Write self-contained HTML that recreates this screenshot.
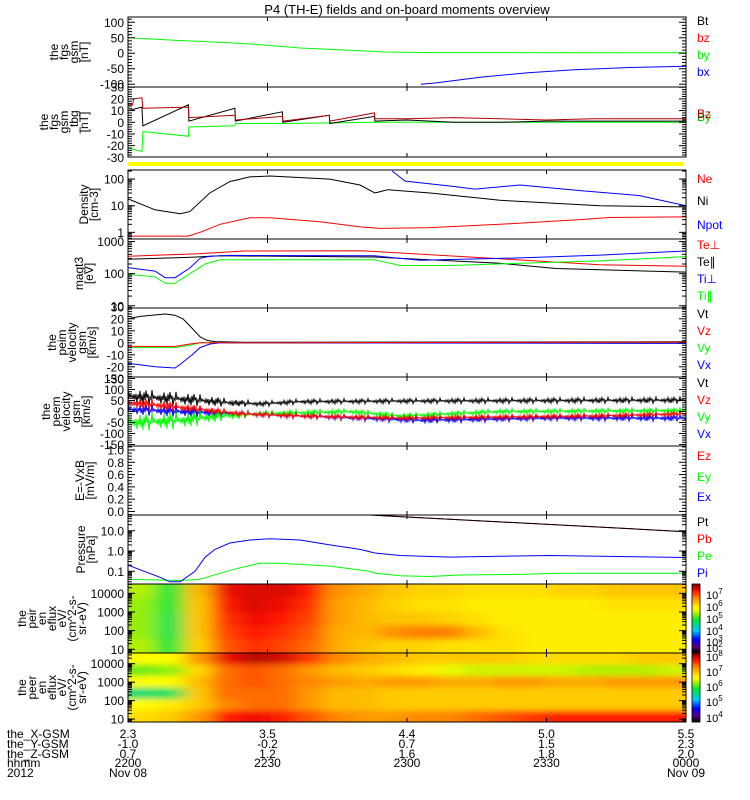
<!DOCTYPE html>
<html><head><meta charset="utf-8"><style>
html,body{margin:0;padding:0;background:#fff}
svg{display:block;font-family:"Liberation Sans",sans-serif}
</style></head><body>
<svg id="chart" width="750" height="800" viewBox="0 0 750 800" xmlns="http://www.w3.org/2000/svg">
<rect x="0" y="0" width="750" height="800" fill="#fff"/>
<text x="407" y="14" font-size="13" text-anchor="middle" fill="#000">P4 (TH-E) fields and on-board moments overview</text>
<defs>
<filter id="blur" x="-10%" y="-20%" width="120%" height="140%"><feGaussianBlur stdDeviation="9 3"/></filter>
<clipPath id="clip9"><rect x="128" y="584" width="558" height="69"/></clipPath>
<clipPath id="clip10"><rect x="128" y="653" width="558" height="69"/></clipPath>
</defs>
<g id="layer"></g>
</svg>
<script>
// ---------- data arrays (time in minutes after 22:00) ----------
const byT=[0,10,20,26,37,50,55,65,120]; const byV=[50,42,35,30,17,8,4,2,1.5];
const bxT=[63,66,76,86,96,108,120]; const bxV=[-100,-96,-77,-63,-53,-46,-42];
const dbzT=[0,1,1.2,3,3.2,13,13.1,23,23.1,33.2,33.3,43.3,43.4,53,53.1,60,70,80,90,100,120];
const dbzV=[15,15,20,21,12,13,4,6,2,5,1,6,1,8,3,3,4,3,2,3,3];
const dbtT=[0,3,3.2,13,13.1,23,23.1,33.2,33.3,43.3,43.4,53,53.1,60,70,80,90,100,120];
const dbtV=[10,13,-3,15,1,12,1,9,0,6,-1,5,1,2,0,0,1,1,1];
const dbyT=[0,3,3.2,13,13.1,23,23.1,33.3,53,120];
const dbyV=[-22,-25,-8,-12,-4,-3,-1,-1,0,0];
const niT=[0,5.8,11.2,13.3,17.6,21.9,26.2,30.5,43.4,49.9,53.1,55.9,65,80,101.5,120];
const niV=[18,7,5,6,30,80,120,130,100,60,30,40,30,16,10,9];
const npT=[56.8,59.6,69.2,74.6,84.3,97.2,110,120]; const npV=[200,84,55,42,60,37,24,10];
const neT=[0,12.9,15.5,19.8,26.2,30.5,41.3,49.9,54.2,64.9,80,97.2,103.6,120];
const neV=[0.72,0.72,1,2,3.5,3.5,2.5,1.6,1.4,1.5,2.0,3,3.6,3.8];
const tepT=[0,15,25,50,53,80,101.5,120]; const tepV=[350,420,510,520,490,290,190,170];
const tepaT=[0,13,20,53,80,92,120]; const tepaV=[280,320,360,330,210,145,112];
const tipT=[0,5.8,8,10.1,13.3,15.5,17.6,22,53,62.8,84.3,101.5,120];
const tipV=[155,120,75,75,150,300,350,370,360,260,310,380,510];
const tipaT=[0,5.8,8,10.1,13.3,16.6,19.8,53,58.5,69.2,84.3,101.5,120];
const tipaV=[95,80,50,50,100,200,270,270,180,180,210,250,340];
const ivtT=[0,2.6,8,10.1,11.8,13.8,15.5,17,18.7,25,120]; const ivtV=[20,22,24,23,20,12,5,2,1,0.5,0.8];
const ivzT=[0,10.1,13.3,15.5,120]; const ivzV=[-3,-3,-1,0,0.5];
const ivyT=[0,10,13.3,15.5,120]; const ivyV=[-4,-4,-2,0,0];
const ivxT=[0,5.8,10.1,11.2,13.8,15.5,17.6,20,120]; const ivxV=[-17,-20,-21,-18,-10,-4,-1,0,-0.5];
const evtT=[0,13.3,21.9,28.4,37,60,120]; const evtV=[70,55,40,35,45,48,52]; const evtA=[35,30,18,12,12,12,14];
const evzT=[0,6,15.5,24,37,58.5,101.5,120]; const evzV=[40,30,10,-10,-20,-30,-20,-10]; const evzA=[25,25,18,12,12,12,12,12];
const evyT=[0,11.2,19.8,28.4,47.7,58.5,80,120]; const evyV=[-50,-40,-20,-10,0,-20,0,5]; const evyA=[40,40,25,15,12,12,12,12];
const evxT=[0,11.2,24,37,62.8,90.7,120]; const evxV=[10,0,-10,-20,-40,-30,-30]; const evxA=[25,25,15,12,15,12,15];
const piT=[0,6.9,9,11.2,14.4,16.6,18.7,21.9,26.2,30.5,37,43.4,49.9,53.1,58.5,69.2,80,90.7,101.5,120];
const piV=[0.2,0.05,0.03,0.03,0.1,0.5,1.2,2.5,3.5,4,3.5,2,1.2,0.8,0.6,0.5,0.55,0.6,0.55,0.48];
const peT=[0,11.2,15.5,19.8,24.1,28.4,32.6,43.4,51.9,53.1,58.5,64.9,71.4,84.3,92.9,120];
const peV=[0.04,0.035,0.04,0.08,0.15,0.25,0.25,0.18,0.1,0.08,0.06,0.055,0.065,0.07,0.08,0.08];
const ptT=[52,120]; const ptV=[60,9];
const jitter=[1,-0.7,0.5,-1,0.2,-0.5,0.9,-0.3,0.6,-0.9,0.1,-0.6,0.8,-0.2,0.4,-0.8,1,-0.4,0.3,-1,0.7,-0.1,0.5,-0.7];
// spectrogram log10 eflux, rows top(high energy) to bottom, 20 columns of 6 min
const ionFlux=[
[5.4,4.8,6.3,7.3,7.4,7.4,7.2,6.6,6.4,6.2,6.1,6.1,6.0,6.0,6.0,6.1,6.1,6.2,6.2,6.2],
[5.3,4.8,6.2,7.2,7.4,7.3,7.1,6.5,6.3,6.1,6.0,6.0,5.9,5.9,5.9,5.9,5.9,6.0,6.0,6.0],
[5.3,4.7,6.2,7.1,7.3,7.2,7.0,6.5,6.3,6.2,6.2,6.1,6.0,5.9,5.9,5.9,5.9,5.9,5.9,5.9],
[5.3,4.7,6.2,7.0,7.2,7.1,6.9,6.4,6.3,6.6,6.7,6.7,6.3,6.0,5.9,5.9,5.9,5.9,5.9,5.9],
[5.4,4.8,6.1,6.9,7.1,7.0,6.8,6.4,6.2,6.1,6.1,6.0,6.0,6.0,5.9,5.9,5.9,5.9,5.9,5.9]];
const eleFlux=[
[6.6,6.6,7.2,7.8,8.0,7.9,7.6,7.3,7.1,7.0,6.9,6.9,6.9,6.9,6.8,6.8,6.8,6.8,6.9,6.9],
[6.1,6.2,6.8,7.4,7.5,7.4,7.2,7.0,6.9,6.8,6.7,6.5,6.4,6.4,6.4,6.4,6.3,6.3,6.3,6.4],
[6.6,6.6,7.0,7.4,7.5,7.4,7.3,7.2,7.1,7.2,7.2,7.1,7.1,7.2,7.2,7.1,7.1,7.2,7.2,7.2],
[5.6,5.7,6.9,7.4,7.4,7.4,7.2,7.0,7.0,6.9,6.9,6.9,6.9,6.9,6.9,6.9,6.9,6.9,6.9,6.9],
[6.6,6.7,6.9,7.3,7.4,7.4,7.2,7.0,7.0,6.9,6.9,6.9,6.9,6.9,6.9,6.9,6.9,6.9,6.9,6.9],
[6.8,6.9,7.2,7.7,7.8,7.7,7.5,7.3,7.2,7.2,7.3,7.3,7.4,7.5,7.6,7.7,7.7,7.7,7.7,7.7]];
const xTickLabels=[["2.3","3.5","4.4","5.0","5.5"],["-1.0","-0.2","0.7","1.5","2.3"],["0.7","1.2","1.6","1.8","2.0"],["2200","2230","2300","2330","0000"],["Nov 08","","","","Nov 09"]];
const xRowNames=["the_X-GSM","the_Y-GSM","the_Z-GSM","hhmm","2012"];
const xTickTimes=[0,30,60,90,120];

// ---------- helpers ----------
const NS="http://www.w3.org/2000/svg";
const layer=document.getElementById('layer');
function mk(tag,attrs,parent){const e=document.createElementNS(NS,tag);for(const k in attrs)e.setAttribute(k,attrs[k]);(parent||layer).appendChild(e);return e;}
const X0=128,X1=686;
function X(t){return X0+t/120*(X1-X0);}
function Y(p,v){const u=p.log?Math.log10(v):v;return p.bot-(u-p.lo)/(p.hi-p.lo)*(p.bot-p.top);}
function interp(T,V,t){if(t<=T[0])return V[0];for(let i=1;i<T.length;i++){if(t<=T[i]){const f=(t-T[i-1])/(T[i]-T[i-1]||1);return V[i-1]+f*(V[i]-V[i-1]);}}return V[V.length-1];}
function line(p,T,V,color,name,A){
  let d;
  if(A){const pts=[];let k=0;for(let x=X(T[0]);x<=X(T[T.length-1]);x+=1){const t=(x-X0)/(X1-X0)*120;const v=interp(T,V,t)+interp(T,A,t)*jitter[k%jitter.length]*(k%3===0?1:0.6);k+=7;pts.push(x.toFixed(1)+','+Math.max(p.top,Math.min(p.bot,Y(p,v))).toFixed(1));}d='M'+pts.join('L');}
  else{d='M'+T.map((t,i)=>X(t).toFixed(1)+','+Math.max(p.top,Math.min(p.bot,Y(p,V[i]))).toFixed(1)).join('L');}
  const e=mk('path',{d:d,fill:'none',stroke:color,'stroke-width':1});
  
  
}
function txt(x,y,s,opt,parent){const e=mk('text',Object.assign({x:x,y:y,'font-size':12,fill:'#000'},opt||{}),parent);e.textContent=s;return e;}

// ---------- panels ----------
const panels=[
 {name:'fgs-panel',top:17,bot:87,lo:-109,hi:117,log:false,labels:[100,50,0,-50,-100],minor:10,ylab:["the","fgs","gsm","[nT]"],lx:88},
 {name:'fgs-tbg-panel',top:87,bot:157,lo:-29.7,hi:30.2,log:false,labels:[30,20,10,0,-10,-20,-30],minor:2,ylab:["the","fgs","gsm","_tbg","[nT]"],lx:88},
 {name:'density-panel',top:170,bot:239,lo:-0.25,hi:2.34,log:true,labels:[100,10,1],ylab:["Density","[cm-3]"],lx:98},
 {name:'temperature-panel',top:239,bot:308,lo:0.93,hi:3.08,log:true,labels:[1000,100,10],ylab:["magt3","[eV]"],lx:93},
 {name:'ion-velocity-panel',top:308,bot:377,lo:-28.5,hi:29,log:false,labels:[30,20,10,0,-10,-20,-30],minor:2,ylab:["the","peim","velocity","gsm","[km/s]"],lx:96},
 {name:'electron-velocity-panel',top:377,bot:446,lo:-157,hi:157,log:false,labels:[150,100,50,0,-50,-100,-150],minor:10,ylab:["the","peem","velocity","gsm","[km/s]"],lx:90},
 {name:'efield-panel',top:446,bot:515,lo:-0.058,hi:1.065,log:false,labels:[1.0,0.8,0.6,0.4,0.2,0.0],fmt:1,minor:0.05,ylab:["E=-VxB","[mV/m]"],lx:94},
 {name:'pressure-panel',top:515,bot:584,lo:-1.63,hi:1.78,log:true,labels:[10,1,0.1],fmt:1,ylab:["Pressure","[nPa]"],lx:95},
 {name:'ion-spectrogram-panel',top:584,bot:653,lo:0.8,hi:4.5,log:true,labels:[10000,1000,100,10],ylab:["the","peir","en","eflux","eV/","(cm^2-s-","sr-eV)"],lx:86},
 {name:'electron-spectrogram-panel',top:653,bot:722,lo:0.84,hi:4.58,log:true,labels:[10000,1000,100,10],ylab:["the","peer","en","eflux","eV/","(cm^2-s-","sr-eV)"],lx:86}
];

// colormap
const cstops=[[0,[0,0,0]],[0.1,[90,0,130]],[0.2,[0,0,255]],[0.33,[0,200,255]],[0.48,[0,230,60]],[0.58,[170,240,0]],[0.65,[255,255,0]],[0.8,[255,140,0]],[0.9,[255,20,0]],[1,[130,0,0]]];
function cmap(f){f=Math.max(0,Math.min(1,f));for(let i=1;i<cstops.length;i++){if(f<=cstops[i][0]){const a=cstops[i-1],b=cstops[i];const u=(f-a[0])/(b[0]-a[0]);return 'rgb('+a[1].map((c,j)=>Math.round(c+u*(b[1][j]-c))).join(',')+')';}}return 'rgb(130,0,0)';}
function spectro(p,grid,lo,hi,clip,name){
  const g=mk('g',{'clip-path':'url(#'+clip+')'});
  
  
  const inner=mk('g',{filter:'url(#blur)'},g);
  const nr=grid.length,nc=grid[0].length,rh=(p.bot-p.top)/nr,cw=(X1-X0)/nc;
  for(let r=0;r<nr;r++)for(let c=0;c<nc;c++){
    let x=X0+c*cw,w=cw+0.5,y=p.top+r*rh,h=rh+0.5;
    if(c===0){x-=25;w+=25;} if(c===nc-1)w+=25; if(r===0){y-=10;h+=10;} if(r===nr-1)h+=10;
    const cell=mk('rect',{x:x,y:y,width:w,height:h,fill:cmap((grid[r][c]-lo)/(hi-lo))},inner);
    
    
  }
}
spectro(panels[8],ionFlux,2,7.8,'clip9','ion-spectrogram');
spectro(panels[9],eleFlux,3.6,8.2,'clip10','electron-spectrogram');

// yellow bar
const yb=mk('rect',{x:128,y:162,width:555,height:4,fill:'#ffff00'});



// series
const P=panels;
line(P[0],byT,byV,'#00ff00','by-line'); line(P[0],bxT,bxV,'#0000ff','bx-line');
line(P[1],dbyT,dbyV,'#00ff00','dby-line'); line(P[1],dbtT,dbtV,'#000000','dbt-line'); line(P[1],dbzT,dbzV,'#b00000','dbz-line');
line(P[2],npT,npV,'#0000ff','npot-line'); line(P[2],niT,niV,'#000000','ni-line'); line(P[2],neT,neV,'#ff0000','ne-line');
line(P[3],tepT,tepV,'#ff0000','te-perp-line'); line(P[3],tepaT,tepaV,'#000000','te-par-line'); line(P[3],tipaT,tipaV,'#00ff00','ti-par-line'); line(P[3],tipT,tipV,'#0000ff','ti-perp-line');
line(P[4],ivtT,ivtV,'#000000','ion-vt-line'); line(P[4],ivyT,ivyV,'#00ff00','ion-vy-line'); line(P[4],ivxT,ivxV,'#0000ff','ion-vx-line'); line(P[4],ivzT,ivzV,'#ff0000','ion-vz-line');
line(P[5],evtT,evtV,'#000000','ele-vt-line',evtA); line(P[5],evxT,evxV,'#0000ff','ele-vx-line',evxA); line(P[5],evyT,evyV,'#00ff00','ele-vy-line',evyA); line(P[5],evzT,evzV,'#ff0000','ele-vz-line',evzA);
line(P[7],peT,peV,'#00ff00','pe-line'); line(P[7],piT,piV,'#0000ff','pi-line'); line(P[7],ptT,ptV,'#ff0000','pb-line'); line(P[7],ptT,ptV,'#000000','pt-line');

// axes
function fmtLab(p,v){if(p.fmt)return v.toFixed(1);return String(v);}
panels.forEach(p=>{
  const g=mk('g',{});
  
  
  mk('rect',{x:X0,y:p.top,width:X1-X0,height:p.bot-p.top,fill:'none',stroke:'#000','stroke-width':1},g);
  const ticks=[];
  if(p.log){for(let d=Math.floor(p.lo);d<=Math.ceil(p.hi);d++)for(let m=1;m<10;m++){const u=d+Math.log10(m);if(u>=p.lo&&u<=p.hi)ticks.push([p.bot-(u-p.lo)/(p.hi-p.lo)*(p.bot-p.top),m===1]);}}
  else{const s=p.minor;for(let v=Math.ceil(p.lo/s)*s;v<=p.hi+1e-9;v+=s){const maj=p.labels.some(l=>Math.abs(l-v)<1e-6);ticks.push([Y(p,v),maj]);}}
  ticks.forEach(([y,maj])=>{const L=maj?7:4;mk('line',{x1:X0,y1:y,x2:X0+L,y2:y,stroke:'#000','stroke-width':1},g);mk('line',{x1:X1,y1:y,x2:X1-L,y2:y,stroke:'#000','stroke-width':1},g);});
  xTickTimes.forEach(t=>{const x=X(t);mk('line',{x1:x,y1:p.top,x2:x,y2:p.top+4,stroke:'#000'},g);mk('line',{x1:x,y1:p.bot,x2:x,y2:p.bot-4,stroke:'#000'},g);});
  p.labels.forEach(v=>{const y=Y(p,v);const e=txt(124,y+4.5,fmtLab(p,v),{'text-anchor':'end'},g);});
  const cy=(p.top+p.bot)/2,n=p.ylab.length;
  p.ylab.forEach((s,i)=>{const bx=p.lx-(n-1-i)*10;const e=txt(0,0,s,{'text-anchor':'middle',transform:'translate('+bx+','+cy+') rotate(-90)'},g);});
});

// right legends
const legends=[["Bt",'#000',25],["bz",'#ff0000',42],["by",'#00ff00',59],["bx",'#0000ff',76],
["By",'#00c000',121],["Bz",'#b00000',118],
["Ne",'#ff0000',183],["Ni",'#000',205],["Npot",'#0000ff',229],
["Te\u22a5",'#ff0000',249],["Te\u2225",'#000',266],["Ti\u22a5",'#0000ff',283],["Ti\u2225",'#00ff00',300],
["Vt",'#000',318],["Vz",'#ff0000',335],["Vy",'#00ff00',352],["Vx",'#0000ff',369],
["Vt",'#000',387],["Vz",'#ff0000',404],["Vy",'#00ff00',421],["Vx",'#0000ff',438],
["Ez",'#ff0000',460],["Ey",'#00ff00',481],["Ex",'#0000ff',501],
["Pt",'#000',526],["Pb",'#ff0000',543],["Pe",'#00ff00',560],["Pi",'#0000ff',577]];
legends.forEach(([s,c,y])=>{const e=txt(697,y,s,{fill:c});});

// colorbars
function cbar(top,bot,labs,name){
  const g=mk('g',{});
  const n=40;for(let i=0;i<n;i++){mk('rect',{x:692,y:bot-(i+1)*(bot-top)/n,width:8,height:(bot-top)/n+0.4,fill:cmap((i+0.5)/n)},g);}
  mk('rect',{x:692,y:top,width:8,height:bot-top,fill:'none',stroke:'#000','stroke-width':0.8},g);
  labs.forEach(([e,y])=>{const t=txt(706,y+5,'10',{'font-size':11},g);const s=mk('tspan',{dy:-5,'font-size':8},t);s.textContent=e;});
}
cbar(584,653,[["7",594],["6",606],["5",618],["4",630],["3",641],["2",647]],'ion-colorbar');
cbar(653,722,[["8",656],["7",671],["6",686],["5",701],["4",717]],'electron-colorbar');

// bottom x labels
const rowsY=[738,748,758,767,777];
xRowNames.forEach((s,i)=>{const e=txt(7,rowsY[i],s);});
xTickLabels.forEach((row,i)=>row.forEach((s,j)=>{if(!s)return;const e=txt(X(xTickTimes[j]),rowsY[i],s,{'text-anchor':'middle'});}));
</script>
</body></html>
